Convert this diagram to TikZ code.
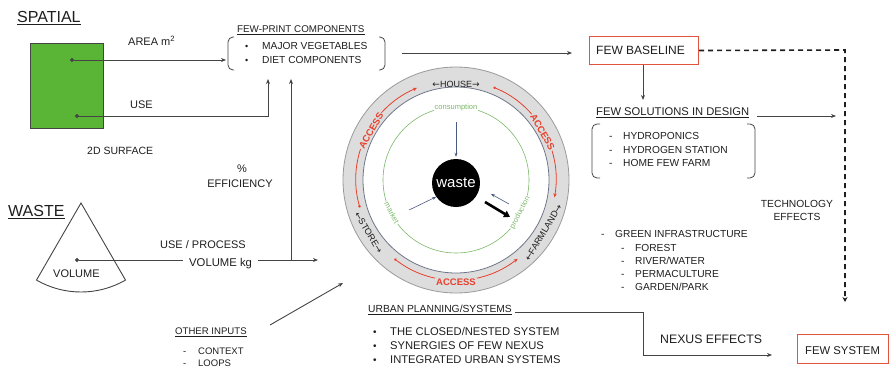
\documentclass[tikz,border=0pt]{standalone}
\usepackage{fontspec}
\setmainfont{Liberation Sans}
\newfontfamily\arrowfont{DejaVu Sans}
\usetikzlibrary{arrows.meta,calc}
\definecolor{ink}{HTML}{1E1E1E}
\definecolor{linegray}{HTML}{444444}
\definecolor{fewred}{HTML}{E2543E}
\definecolor{accessred}{HTML}{E8402C}
\definecolor{ringgray}{HTML}{DDDDDD}
\definecolor{ringedge}{HTML}{9A9A9A}
\definecolor{ringinner}{HTML}{70768A}
\definecolor{loopgreen}{HTML}{7BB868}
\definecolor{surfgreen}{HTML}{5AB536}
\definecolor{flowblue}{HTML}{4A5A82}
\newcommand{\fs}[1]{\fontsize{#1}{#1}\selectfont}
\newcommand{\la}{{\arrowfont\char"2190}}
\newcommand{\ra}{{\arrowfont\char"2192}}
\begin{document}
\begin{tikzpicture}[x=1pt,y=1pt,
  lbl/.style={inner sep=0pt,text=ink,anchor=base west},
  clbl/.style={inner sep=0pt,text=ink,anchor=base,align=center},
  ul/.style={draw=ink,line width=0.7pt},
  conn/.style={draw=linegray,line width=0.9pt},
  arr/.style={conn,-{Stealth[length=5pt,width=4pt]}},
  dotarr/.style={conn,{Circle[length=4pt]}-{Stealth[length=5pt,width=4pt]}},
  dotline/.style={conn,{Circle[length=4pt]}-},
  bracket/.style={draw=linegray,line width=0.8pt,rounded corners=5pt},
  redbox/.style={draw=fewred,line width=1pt,fill=white,inner sep=0pt},
  ringlbl/.style={inner sep=1pt,text=ink,font=\fs{9}},
  accesslbl/.style={inner sep=1pt,text=accessred,fill=ringgray,font=\fs{9.5}\bfseries},
  redarc/.style={draw=accessred,line width=0.8pt,{Circle[length=2.5pt]}-{Stealth[length=4pt,width=3.5pt]}},
  looplbl/.style={inner sep=1pt,text=loopgreen,fill=white,font=\fs{7.5}},
  flow/.style={draw=flowblue,line width=0.6pt,-{Stealth[length=4pt,width=3pt]}}]
\useasboundingbox (0,0) rectangle (889,-367);

% ---------------- spatial block ----------------
\node[lbl,font=\fs{16}] (spatial) at (17,-22) {SPATIAL};
\draw[ul,line width=1.1pt] ([yshift=-2.5pt]spatial.base west) -- ([yshift=-2.5pt]spatial.base east);
\node[draw=linegray,line width=0.8pt,fill=surfgreen,inner sep=0pt,minimum width=73pt,minimum height=85pt,anchor=north west] (surface) at (30,-43) {};
\node[lbl,font=\fs{11}] (area) at (128,-45) {AREA m\textsuperscript{2}};
\node[lbl,font=\fs{11}] (use) at (130,-108) {USE};
\node[lbl,font=\fs{10.5}] (surf2d) at (87,-154) {2D SURFACE};
\coordinate (areadot) at (70,-60);
\coordinate (usedot) at (75,-116);

% ---------------- few-print components ----------------
\node[lbl,font=\fs{9.8}] (fewprint) at (237,-32) {FEW-PRINT COMPONENTS};
\draw[ul] ([yshift=-2pt]fewprint.base west) -- ([yshift=-2pt]fewprint.base east);
\node[lbl,font=\fs{10.2}] (majveg) at (262,-49) {MAJOR VEGETABLES};
\node[lbl,font=\fs{10.2}] (diet) at (262,-63) {DIET COMPONENTS};
\node[lbl,font=\fs{9}] (b1) at (245,-49) {•};
\node[lbl,font=\fs{9}] (b2) at (245,-63) {•};
\draw[bracket] (234,-37) -- (228,-37) -- (228,-70) -- (234,-70);
\draw[bracket] (379,-37) -- (385,-37) -- (385,-70) -- (379,-70);
\coordinate (fpin1) at (226,-60);
\coordinate (fpin2) at (268,-79);
\coordinate (fpin3) at (291,-79);
\coordinate (fpout) at (402,-53);
\coordinate (fewarrowend) at (572,-53);

\draw[dotarr] (areadot) -- (fpin1);
\draw[dotarr] (usedot) -- (268,-116) -- (fpin2);

\node[clbl,font=\fs{11}] (pct) at (242,-172) {\%};
\node[clbl,font=\fs{11}] (eff) at (240,-187) {EFFICIENCY};

% ---------------- waste block ----------------
\node[lbl,font=\fs{16}] (wastehead) at (8,-216) {WASTE};
\draw[ul,line width=1.1pt] ([yshift=-2.5pt]wastehead.base west) -- ([yshift=-2.5pt]wastehead.base east);
\coordinate (apex) at (81,-203);
\draw[draw=linegray,line width=0.9pt] (apex) -- ++(240:89) arc[start angle=240,end angle=300,radius=89] -- cycle;
\node[lbl,font=\fs{11}] (volume) at (53,-277) {VOLUME};
\coordinate (voldot) at (75,-260);
\node[lbl,font=\fs{11}] (useproc) at (160,-248) {USE / PROCESS};
\node[lbl,font=\fs{11.3},inner xsep=6pt] (volkg) at (183,-266) {VOLUME kg};
\coordinate (junct) at (291,-260);
\coordinate (volin) at (318,-260);
\draw[dotline] (voldot) -- (voldot -| volkg.west);
\draw[arr] (volkg.east |- junct) -- (volin);
\draw[arr] (junct) -- (fpin3);

\node[lbl,font=\fs{9.6}] (other) at (175,-334) {OTHER INPUTS};
\draw[ul] ([yshift=-2pt]other.base west) -- ([yshift=-2pt]other.base east);
\node[lbl,font=\fs{9.5}] (d1) at (183,-354) {-};
\node[lbl,font=\fs{9.5}] (context) at (198,-354) {CONTEXT};
\node[lbl,font=\fs{9.5}] (d2) at (183,-366) {-};
\node[lbl,font=\fs{9.5}] (loops) at (198,-366) {LOOPS};
\coordinate (othertail) at (270,-325);
\coordinate (otherhead) at (343,-283);
\draw[arr] (othertail) -- (otherhead);

% ---------------- central loop ----------------
\coordinate (ctr) at (456,-180);
\draw[draw=ringedge,line width=0.8pt,fill=ringgray] (ctr) circle (113);
\draw[draw=ringinner,line width=0.8pt,fill=white] (ctr) circle (93);

\draw[redarc] ($(ctr)+(196:100)$) arc[start angle=196,end angle=113,radius=100];
\draw[redarc] ($(ctr)+(68:100)$) arc[start angle=68,end angle=-10,radius=100];
\draw[redarc] ($(ctr)+(232:100)$) arc[start angle=232,end angle=308,radius=100];

\node[accesslbl,rotate=60] (acc1) at ($(ctr)+(150:98)$) {ACCESS};
\node[accesslbl,rotate=-60] (acc2) at ($(ctr)+(29:99)$) {ACCESS};
\node[accesslbl] (acc3) at ($(ctr)+(270:102)$) {ACCESS};

\node[ringlbl] (house) at ($(ctr)+(90:96)$) {\la HOUSE\ra};
\node[ringlbl,rotate=-59] (store) at ($(ctr)+(211:102)$) {\la STORE\ra};
\node[ringlbl,rotate=59] (farm) at ($(ctr)+(329:102)$) {\la FARMLAND\ra};

\draw[draw=loopgreen,line width=0.6pt] (ctr) circle (73);
\node[looplbl] (consum) at ($(ctr)+(90:72)$) {consumption};
\node[looplbl,rotate=-62] (market) at ($(ctr)+(207:72)$) {market};
\node[looplbl,rotate=62] (prod) at ($(ctr)+(333:72)$) {production};

\node[circle,fill=black,minimum size=48pt,inner sep=0pt,text=white,font=\fs{15}] (waste) at (456,-183) {waste};
\coordinate (constail) at (456,-122);
\coordinate (markettail) at (409,-210);
\coordinate (prodtail) at (509,-204);
\coordinate (prodhead) at (491,-194);
\coordinate (outtail) at (485,-202);
\coordinate (outhead) at (510,-217);
\draw[flow] (constail) -- ([yshift=2pt]waste.north);
\draw[flow] (markettail) -- (waste.215);
\draw[flow] (prodtail) -- (prodhead);
\draw[draw=black,line width=2.6pt,-{Triangle[length=6pt,width=7pt]}] (outtail) -- (outhead);

% ---------------- urban planning ----------------
\node[lbl,font=\fs{10.3}] (urban) at (368,-312) {URBAN PLANNING/SYSTEMS};
\draw[ul] ([yshift=-2pt]urban.base west) -- ([yshift=-2pt]urban.base east);
\node[lbl,font=\fs{11.2}] (u1) at (390,-335) {THE CLOSED/NESTED SYSTEM};
\node[lbl,font=\fs{11.2}] (u2) at (390,-349) {SYNERGIES OF FEW NEXUS};
\node[lbl,font=\fs{11.2}] (u3) at (390,-363) {INTEGRATED URBAN SYSTEMS};
\node[lbl,font=\fs{10}] (ub1) at (373,-335) {•};
\node[lbl,font=\fs{10}] (ub2) at (373,-349) {•};
\node[lbl,font=\fs{10}] (ub3) at (373,-363) {•};

% ---------------- right side ----------------
\node[redbox,minimum width=109pt,minimum height=28pt,anchor=north west] (baseline) at (589,-36) {};
\node[lbl,font=\fs{12}] (baselinetxt) at (596,-54) {FEW BASELINE};
\draw[arr] (fpout) -- (fewarrowend);

\node[lbl,font=\fs{11.2}] (sol) at (596,-115) {FEW SOLUTIONS IN DESIGN};
\draw[ul] ([yshift=-2pt]sol.base west) -- ([yshift=-2pt]sol.base east);
\draw[bracket] (600,-124) -- (592,-124) -- (592,-178) -- (600,-178);
\draw[bracket] (747,-124) -- (755,-124) -- (755,-178) -- (747,-178);
\node[lbl,font=\fs{10.2}] (h1) at (623,-139) {HYDROPONICS};
\node[lbl,font=\fs{10.2}] (h2) at (623,-153) {HYDROGEN STATION};
\node[lbl,font=\fs{10.2}] (h3) at (623,-166) {HOME FEW FARM};
\node[lbl,font=\fs{10.2}] (hd1) at (609,-139) {-};
\node[lbl,font=\fs{10.2}] (hd2) at (609,-153) {-};
\node[lbl,font=\fs{10.2}] (hd3) at (609,-166) {-};
\coordinate (solin) at (643,-100);
\draw[arr] (baseline.south -| solin) -- (solin);
\coordinate (solout) at (757,-116);
\coordinate (solhead) at (836,-116);
\draw[arr] (solout) -- (solhead);

\node[clbl,font=\fs{10.3}] (tech) at (797,-207) {TECHNOLOGY};
\node[clbl,font=\fs{10.3}] (techeff) at (797,-220) {EFFECTS};

\node[lbl,font=\fs{10.2}] (gd) at (601,-237) {-};
\node[lbl,font=\fs{10.2}] (green) at (615,-237) {GREEN INFRASTRUCTURE};
\node[lbl,font=\fs{10.2}] (g1d) at (621,-251) {-};
\node[lbl,font=\fs{10.2}] (g1) at (635,-251) {FOREST};
\node[lbl,font=\fs{10.2}] (g2d) at (621,-264) {-};
\node[lbl,font=\fs{10.2}] (g2) at (635,-264) {RIVER/WATER};
\node[lbl,font=\fs{10.2}] (g3d) at (621,-277) {-};
\node[lbl,font=\fs{10.2}] (g3) at (635,-277) {PERMACULTURE};
\node[lbl,font=\fs{10.2}] (g4d) at (621,-290) {-};
\node[lbl,font=\fs{10.2}] (g4) at (635,-290) {GARDEN/PARK};

\coordinate (dashhead) at (845,-302);
\draw[draw=ink,line width=1.6pt,dash pattern=on 5pt off 4pt,-{Stealth[length=5pt,width=5pt]}] (baseline.east) -- (845,-50) -- (dashhead);

\node[lbl,font=\fs{12.3}] (nexus) at (660,-343) {NEXUS EFFECTS};
\node[redbox,minimum width=91pt,minimum height=29pt,anchor=north west] (fewsys) at (797,-334) {};
\node[lbl,font=\fs{11.3}] (fewsystxt) at (805,-354) {FEW SYSTEM};
\coordinate (nexushead) at (772,-355);
\draw[arr] ([xshift=3pt,yshift=-0.5pt]urban.base east) -- (643,-312.5) -- (643,-355) -- (nexushead);
\end{tikzpicture}
\end{document}
